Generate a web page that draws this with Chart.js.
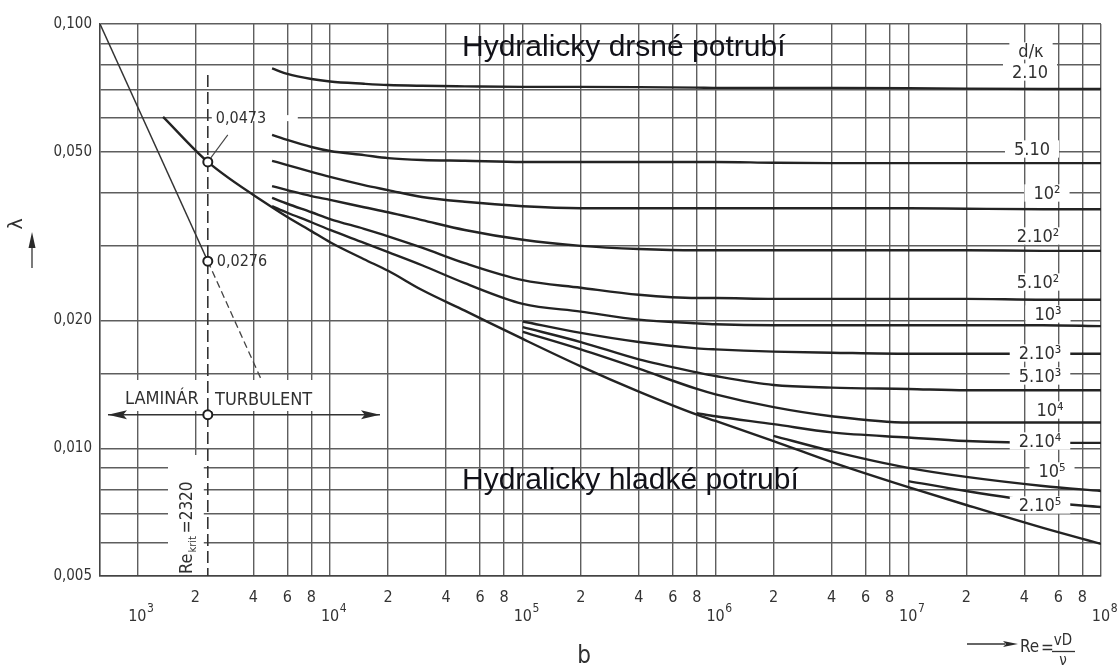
<!DOCTYPE html>
<html><head><meta charset="utf-8">
<script src="https://cdn.jsdelivr.net/npm/chart.js@4.4.1/dist/chart.umd.min.js"></script>
<style>html,body{margin:0;padding:0;background:#fff;}#wrap{width:1117px;height:668px;}</style>
</head><body><div id="wrap"><canvas id="c" width="1117" height="668"></canvas></div>
<script>
// ---------- data ----------
const RE = [1360, 2320, 5e3, 6e3, 8e3, 1e4, 1.5e4, 2e4, 3e4, 5e4, 1e5, 2e5, 4e5, 8e5, 1e6, 2e6, 4e6, 1e7, 2e7, 5e7, 1e8];
const N = null;
const LAM_SMOOTH = [.0604, .0473, .0370, .0351, .0325, .0306, .0279, .0262, .0236, .0211, .0181, .0156, .0136, .0120, .0116, .0104, .00928, .00810, .00735, .00649, .00595];
const LAM_20   = [N, N, .0786, .0763, .0742, .0732, .0723, .0718, .0715, .0713, .0711, .0711, .0710, .0708, .0707, .0707, .0707, .0706, .0704, .0703, .0703];
const LAM_50   = [N, N, .0548, .0533, .0513, .0502, .0491, .0483, .0478, .0476, .0473, .0473, .0473, .0473, .0473, .0471, .0470, .0470, .0470, .0470, .0470];
const LAM_100  = [N, N, .0476, .0465, .0448, .0436, .0417, .0406, .0391, .0381, .0372, .0368, .0368, .0368, .0368, .0368, .0368, .0368, .0367, .0366, .0366];
const LAM_200  = [N, N, .0415, .0406, .0393, .0385, .0370, .0360, .0345, .0327, .0310, .0300, .0295, .0293, .0293, .0293, .0293, .0293, .0293, .0292, .0292];
const LAM_500  = [N, N, .0389, .0377, .0360, .0347, .0329, .0316, .0297, .0273, .0249, .0239, .0230, .0226, .0226, .0225, .0225, .0225, .0225, .0224, .0224];
const LAM_1E3  = [N, N, .0372, .0359, .0341, .0327, .0305, .0290, .0270, .0245, .0219, .0210, .0201, .0197, .0196, .0195, .0195, .0195, .0195, .0195, .0194];
const LAM_2E3  = [N, N, N, N, N, N, N, N, N, N, .0199, .0187, .0178, .0172, .0171, .0169, .0168, .0167, .0167, .0167, .0167];
const LAM_5E3  = [N, N, N, N, N, N, N, N, N, N, .0193, .0178, .0162, .0151, .0148, .0141, .0139, .0138, .0137, .0137, .0137];
const LAM_1E4  = [N, N, N, N, N, N, N, N, N, N, .0188, .0171, .0154, .0138, .0134, .0125, .0119, .0115, .0115, .0115, .0115];
const LAM_2E4  = [N, N, N, N, N, N, N, N, N, N, N, N, N, .0121, .0119, .0114, .0109, .0106, .0104, .0103, .0103];
const LAM_1E5  = [N, N, N, N, N, N, N, N, N, N, N, N, N, N, N, .0107, .00985, .00899, .00856, .00815, .00793];
const LAM_2E5  = [N, N, N, N, N, N, N, N, N, N, N, N, N, N, N, N, N, .00837, .00793, .00747, .00727];

const LAMINAR_RE = [640, 2320];
const LAMINAR_LAM = [0.100, 0.0276];
const LAMINAR_EXT_RE = [2320, 4400];
const LAMINAR_EXT_LAM = [0.0276, 0.0145];
const RE_KRIT = 2320;
const KRIT_LAM = [0.0758, 0.005];
const ARROW_RE = [704, 18150];
const ARROW_LAM = 0.0120;
const CIRCLE_LAM = [0.0473, 0.0276, 0.0120];
const CIRCLE_LABELS = ['0,0473', '0,0276'];

const DECADES = [3, 4, 5, 6, 7, 8];
const MULTS = [2, 4, 6, 8];
const X_MINOR_LABELS = ['2', '4', '6', '8'];
const Y_GRID = [0.1, 0.09, 0.08, 0.07, 0.06, 0.05, 0.04, 0.03, 0.02, 0.015, 0.01, 0.009, 0.008, 0.007, 0.006, 0.005];
const Y_LABEL_VALUES = [0.1, 0.05, 0.02, 0.01, 0.005];
const Y_LABELS = ['0,100', '0,050', '0,020', '0,010', '0,005'];
const DK_LABELS = ['d/κ', '2.10', '5.10', '10²', '2.10²', '5.10²', '10³', '2.10³', '5.10³', '10⁴', '2.10⁴', '10⁵', '2.10⁵'];
const TITLE_TOP = 'Hydralicky drsné potrubí';
const TITLE_BOTTOM = 'Hydralicky hladké potrubí';

// ---------- build ----------
const X_GRID = [];
DECADES.forEach(d => {
  X_GRID.push(Math.pow(10, d));
  if (d < 8) MULTS.forEach(m => X_GRID.push(m * Math.pow(10, d)));
});

const INK = '#232323';
const GRID = '#5e5e5e';
const COND = "'DejaVu Sans Condensed', 'Liberation Sans Narrow', sans-serif";

const pts = lam => RE.map((r, i) => ({x: r, y: lam[i]})).filter(p => p.y !== null);
const pair = (xs, ys) => xs.map((v, i) => ({x: v, y: ys[i]}));
const curve = (lam, w) => ({data: pts(lam), borderColor: INK, borderWidth: w || 2.4, pointRadius: 0, cubicInterpolationMode: 'monotone', fill: false});

const datasets = [
  {data: CIRCLE_LAM.map(v => ({x: RE_KRIT, y: v})), showLine: false, pointRadius: 4.5, pointBorderWidth: 2,
   pointBackgroundColor: '#fff', pointBorderColor: '#1e1e1e'},
  curve(LAM_SMOOTH),
  curve(LAM_20), curve(LAM_50), curve(LAM_100), curve(LAM_200), curve(LAM_500), curve(LAM_1E3),
  curve(LAM_2E3), curve(LAM_5E3), curve(LAM_1E4), curve(LAM_2E4), curve(LAM_1E5), curve(LAM_2E5),
  {data: pair(LAMINAR_RE, LAMINAR_LAM), borderColor: '#333', borderWidth: 1.5, pointRadius: 0},
  {data: pair(LAMINAR_EXT_RE, LAMINAR_EXT_LAM), borderColor: '#444', borderWidth: 1.3, borderDash: [7, 4], pointRadius: 0},
  {data: KRIT_LAM.map(v => ({x: RE_KRIT, y: v})), borderColor: '#333', borderWidth: 1.6, borderDash: [12, 5], pointRadius: 0},
  {data: ARROW_RE.map(v => ({x: v, y: ARROW_LAM})), borderColor: '#333', borderWidth: 1.4, pointRadius: 0}
];

const annot = {
  id: 'annot',
  afterDatasetsDraw(chart) {
    const {ctx, scales: {x, y}} = chart;
    const px = v => x.getPixelForValue(v), py = v => y.getPixelForValue(v);
    ctx.save();
    ctx.textBaseline = 'middle';
    const box = (x0, y0, w, h) => { ctx.fillStyle = '#fff'; ctx.fillRect(x0, y0, w, h); };
    const boxText = (t, cx, cy, size, padX, padY) => {
      ctx.font = size + 'px ' + COND;
      const w = ctx.measureText(t).width, h = size * 0.85;
      box(cx - w / 2 - padX, cy - h / 2 - padY, w + 2 * padX, h + 2 * padY);
      ctx.fillStyle = '#303030'; ctx.textAlign = 'center';
      ctx.fillText(t, cx, cy + 1);
    };
    const arrowHead = (tx, ty, dir, len, hw) => {
      ctx.fillStyle = '#2a2a2a'; ctx.beginPath();
      ctx.moveTo(tx, ty); ctx.lineTo(tx - dir * len, ty - hw);
      ctx.lineTo(tx - dir * len * 0.8, ty); ctx.lineTo(tx - dir * len, ty + hw);
      ctx.closePath(); ctx.fill();
    };

    // d/k labels on the right
    const dkPos = [[1031, 51], [1030, 72], [1032, 149], [1047, 193], [1038, 236], [1038, 282], [1048, 314],
                   [1040, 353], [1040, 376], [1050, 410], [1040, 441], [1052, 471], [1040, 505]];
    DK_LABELS.forEach((t, i) => boxText(t, dkPos[i][0], dkPos[i][1], 18, 9, 1));

    // circle labels + leader
    const kx = px(RE_KRIT), ky1 = py(CIRCLE_LAM[0]), ky2 = py(CIRCLE_LAM[1]);
    box(kx + 4, py(0.06) - 3, 86, 6);
    ctx.font = '16px ' + COND; ctx.fillStyle = '#303030'; ctx.textAlign = 'left';
    ctx.fillText(CIRCLE_LABELS[0], kx + 8, ky1 - 43);
    ctx.fillText(CIRCLE_LABELS[1], kx + 9, ky2 + 1);
    ctx.strokeStyle = '#444'; ctx.lineWidth = 1.1;
    ctx.beginPath(); ctx.moveTo(kx + 3, ky1 - 4); ctx.lineTo(kx + 20, ky1 - 27); ctx.stroke();

    // laminar / turbulent
    box(119, 380, kx - 4 - 119, 31);
    box(kx + 3, 380, 318 - kx - 3, 31);
    ctx.font = '18px ' + COND; ctx.fillStyle = '#303030'; ctx.textAlign = 'left';
    ctx.fillText('LAMINÁR', 125, 399);
    ctx.fillText('TURBULENT', 215, 400);
    const ay = py(ARROW_LAM);
    arrowHead(px(ARROW_RE[0]), ay, -1, 19, 4.5);
    arrowHead(px(ARROW_RE[1]), ay, 1, 19, 4.5);

    // Re_krit rotated label
    box(168, 455, kx - 4 - 168, py(0.005) - 455 - 1);
    ctx.save();
    ctx.translate(192, 574); ctx.rotate(-Math.PI / 2);
    ctx.textAlign = 'left'; ctx.textBaseline = 'alphabetic'; ctx.fillStyle = '#303030';
    ctx.font = '18px ' + COND; ctx.fillText('Re', 0, 0);
    let w = ctx.measureText('Re').width;
    ctx.font = '11px ' + COND; ctx.fillText('krit', w + 1, 4);
    w += ctx.measureText('krit').width + 4;
    ctx.font = '17px ' + COND; ctx.fillText('=2320', w, 0);
    ctx.restore();

    // y tick labels
    ctx.textBaseline = 'middle'; ctx.textAlign = 'right'; ctx.fillStyle = '#333';
    ctx.font = '15px ' + COND;
    Y_LABEL_VALUES.forEach((v, i) => ctx.fillText(Y_LABELS[i], 92, py(v)));

    // x tick labels
    ctx.textAlign = 'center';
    DECADES.forEach(d => {
      if (d < 8) MULTS.forEach((m, j) => {
        ctx.font = '16px ' + COND;
        ctx.fillText(X_MINOR_LABELS[j], px(m * Math.pow(10, d)), 598);
      });
      const gx = px(Math.pow(10, d));
      ctx.font = '16px ' + COND; ctx.textAlign = 'center';
      const w10 = ctx.measureText('10').width;
      ctx.fillText('10', gx, 617);
      ctx.font = '12px ' + COND; ctx.textAlign = 'left';
      ctx.fillText(String(d), gx + w10 / 2 + 0.5, 609);
      ctx.textAlign = 'center';
    });

    // Re = vD/nu
    ctx.strokeStyle = '#333'; ctx.lineWidth = 1.3;
    ctx.beginPath(); ctx.moveTo(967, 644); ctx.lineTo(1005, 644); ctx.stroke();
    arrowHead(1018, 644, 1, 15, 3);
    ctx.fillStyle = '#303030'; ctx.textAlign = 'left'; ctx.font = '17px ' + COND;
    ctx.fillText('Re', 1020, 648);
    ctx.fillText('=', 1041, 649);
    ctx.font = '15px ' + COND; ctx.textAlign = 'center';
    ctx.fillText('vD', 1063, 641);
    ctx.fillText('ν', 1063, 661);
    ctx.beginPath(); ctx.moveTo(1052, 651.5); ctx.lineTo(1075, 651.5); ctx.stroke();

    // b
    ctx.font = '24px ' + COND; ctx.fillText('b', 584, 657);

    // lambda axis label
    ctx.save(); ctx.translate(17, 224); ctx.rotate(-Math.PI / 2);
    ctx.font = '19px "DejaVu Sans", sans-serif'; ctx.textAlign = 'center'; ctx.fillText('λ', 0, 0);
    ctx.restore();
    ctx.beginPath(); ctx.moveTo(32, 268); ctx.lineTo(32, 244); ctx.stroke();
    ctx.fillStyle = '#2a2a2a'; ctx.beginPath();
    ctx.moveTo(32, 232); ctx.lineTo(28.5, 248); ctx.lineTo(35.5, 248); ctx.closePath(); ctx.fill();

    // titles
    ctx.font = '30px "Liberation Sans", Arial, sans-serif'; ctx.fillStyle = '#111118';
    ctx.textAlign = 'left'; ctx.textBaseline = 'alphabetic';
    ctx.fillText(TITLE_TOP, 462, 56);
    ctx.fillText(TITLE_BOTTOM, 462, 489);
    ctx.restore();
  }
};

new Chart(document.getElementById('c'), {
  type: 'line',
  data: {datasets},
  plugins: [annot],
  options: {
    responsive: false, animation: false, devicePixelRatio: 1,
    layout: {padding: {left: 100, right: 16, top: 24, bottom: 92}},
    plugins: {legend: {display: false}, tooltip: {enabled: false}},
    elements: {line: {tension: 0}},
    scales: {
      x: {type: 'logarithmic', min: 640, max: 1e8,
          afterBuildTicks: s => { s.ticks = X_GRID.map(v => ({value: v})); },
          afterFit: s => { s.height = 0; },
          ticks: {display: false},
          grid: {color: GRID, lineWidth: 1.4, drawTicks: false},
          border: {display: true, color: '#444', width: 1.6}},
      y: {type: 'logarithmic', min: 0.005, max: 0.1,
          afterBuildTicks: s => { s.ticks = Y_GRID.map(v => ({value: v})); },
          afterFit: s => { s.width = 0; },
          ticks: {display: false},
          grid: {color: GRID, lineWidth: 1.4, drawTicks: false},
          border: {display: true, color: '#444', width: 1.6}}
    }
  }
});
</script></body></html>
